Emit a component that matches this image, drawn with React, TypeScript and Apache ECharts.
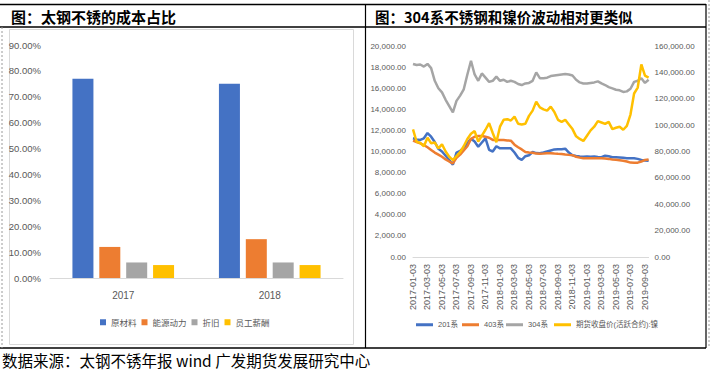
import React, { useEffect, useRef } from "react";
import * as echarts from "echarts";

// ---------- Left chart data ----------
const years = ["2017", "2018"];
const costRawMaterial = [0.77, 0.75];
const costEnergy = [0.12, 0.15];
const costDepreciation = [0.06, 0.06];
const costSalary = [0.05, 0.05];
const barNames = ["原材料", "能源动力", "折旧", "员工薪酬"];

// ---------- Right chart data (half-monthly readings, 2017-01-03 .. 2019-09-18) ----------
const lineNames = ["201系", "403系", "304系", "期货收盘价(活跃合约):镍"];
const priceDates: string[] = (() => {
  const out: string[] = [];
  for (const y of [2017, 2018, 2019]) {
    for (let m = 1; m <= 12; m++) {
      if (y === 2019 && m > 9) break;
      const mm = m < 10 ? "0" + m : "" + m;
      out.push(`${y}-${mm}-03`, `${y}-${mm}-18`);
    }
  }
  return out;
})();

const s201 = [
  11250, 11150, 11100, 11250, 11750, 11400, 10900, 10250, 10000, 9600,
  9200, 8750, 9900, 10050, 10350, 10800, 11200, 10950, 10450, 10850,
  11250, 10150, 10000, 10500, 10300, 10300, 10300, 10300, 9900, 9400,
  9200, 9550, 9650, 9950, 9850, 9830, 9900, 10000, 10100, 10200,
  10220, 10220, 10270, 9900, 9650, 9580, 9520, 9500, 9520, 9500,
  9520, 9480, 9460, 9600, 9550, 9460, 9450, 9430, 9400, 9360,
  9350, 9350, 9300, 9200, 9150, 9130,
];
const s403 = [
  11030, 10900, 10780, 10600, 10400, 10150, 9900, 9700, 9500, 9250,
  9050, 8880, 9400, 9700, 10100, 10500, 11200, 11400, 11470, 11470,
  11400, 11300, 11100, 11090, 11090, 11090, 11050, 11030, 10650, 10400,
  10200, 9950, 9900, 9880, 9800, 9780, 9800, 9830, 9830, 9800,
  9780, 9770, 9720, 9680, 9650, 9500, 9420, 9360, 9350, 9350,
  9350, 9350, 9350, 9340, 9300, 9250, 9220, 9180, 9130, 9050,
  8950, 8940, 8940, 9050, 9200, 9250,
];
const s304 = [
  18300, 18200, 18250, 18050, 18300, 17900, 16700, 16000, 15600, 14900,
  14300, 13700, 14800, 15300, 15900, 17300, 18600, 17300, 16700, 17400,
  17000, 16600, 16700, 17100, 16700, 16800, 16600, 16700, 16600, 16400,
  16300, 16450, 16500, 16700, 17500, 16950, 16950, 17000, 17150, 17200,
  17250, 17300, 17350, 17300, 17200, 16800, 16550, 16450, 16450, 16500,
  16550, 16650, 16450, 16300, 16100, 15980, 15850, 15800, 15650, 15700,
  15950, 16600, 16700, 16950, 16500, 16800,
];
const nickel = [
  96800, 87400, 86500, 84000, 90500, 86200, 86800, 82400, 85500, 80000,
  76000, 73500, 76500, 79500, 84000, 89500, 93500, 95500, 87500, 92000,
  96500, 101500, 94000, 87000, 98800, 104000, 104500, 103500, 106400, 101000,
  100500, 101000, 107000, 111000, 117800, 113500, 112000, 111000, 114000, 110000,
  104000, 102500, 104000, 100500, 97000, 91500, 89500, 88000, 92000, 96000,
  98800, 103000, 102000, 101000, 102500, 97000, 98000, 98800, 96500, 99500,
  108000, 124000, 128500, 146000, 137500, 136000,
];

const barColors = ["#4472C4", "#ED7D31", "#A5A5A5", "#FFC000"];
const NARROW = "'Liberation Sans', 'Noto Sans CJK SC', sans-serif";
const CJK = "'Noto Sans CJK SC', sans-serif";
const LABEL = "#595959";
const AXIS = "#D9D9D9";
const lineLegendLeft = [416, 462, 506, 554];

const fmtNum = (v: number) =>
  v.toLocaleString("en-US", { minimumFractionDigits: 2, maximumFractionDigits: 2 });

export default function App() {
  const ref = useRef<HTMLDivElement>(null);
  useEffect(() => {
    document.body.style.margin = "0";
    const chart = echarts.init(ref.current!, undefined, { renderer: "svg" });
    const barSeries = [costRawMaterial, costEnergy, costDepreciation, costSalary].map((d, i) => ({
      name: barNames[i],
      type: "bar",
      xAxisIndex: 0,
      yAxisIndex: 0,
      data: d,
      barWidth: 21,
      barGap: "28%",
      itemStyle: { color: barColors[i] },
    }));
    const lineData = [s201, s403, s304, nickel];
    const lineSeries = lineData.map((d, i) => ({
      name: lineNames[i],
      type: "line",
      xAxisIndex: 1,
      yAxisIndex: i === 3 ? 2 : 1,
      data: d,
      symbol: "none",
      lineStyle: { width: 2.5, color: barColors[i] },
      itemStyle: { color: barColors[i] },
    }));
    const line = (x1: number, y1: number, x2: number, y2: number, color = "#000", w = 1.5, dash?: number[]) => ({
      type: "line",
      shape: { x1, y1, x2, y2 },
      style: { stroke: color, lineWidth: w, lineDash: dash },
      silent: true,
    });
    const lineLegends = lineNames.map((n, i) => ({
      data: [n], left: lineLegendLeft[i], top: 321, padding: 0, icon: "rect", itemWidth: 17, itemHeight: 3,
      textStyle: { fontSize: 7.5, color: LABEL, fontFamily: NARROW },
    }));
    chart.setOption({
      animation: false,
      backgroundColor: "#fff",
      graphic: [
        { type: "rect", shape: { x: 9.5, y: 29.5, width: 344, height: 315 }, style: { fill: "none", stroke: AXIS, lineWidth: 1 } },
        line(0, 4.5, 706, 4.5, "#000", 1.5),
        line(0, 27, 706, 27, "#000", 1.5),
        line(0, 348, 706, 348, "#000", 1.5),
        line(365.5, 4, 365.5, 348, "#000", 1.2),
        line(706, 4, 706, 348, "#000", 1.2),
        line(2, 27, 2, 348, "#9a9a9a", 1, [2, 2]),
        line(709, 0, 709, 348, "#9a9a9a", 1, [2, 2]),
        {
          type: "text", x: 11, y: 16,
          style: { text: "图：太钢不锈的成本占比", font: `bold 15px ${CJK}`, fill: "#000", verticalAlign: "middle" },
        },
        {
          type: "text", x: 375, y: 16,
          style: { text: "图：304系不锈钢和镍价波动相对更类似", font: `bold 14.5px ${CJK}`, fill: "#000", verticalAlign: "middle" },
        },
        {
          type: "text", x: 2, y: 360,
          style: { text: "数据来源：太钢不锈年报 wind 广发期货发展研究中心", font: `15.5px ${CJK}`, fill: "#000", verticalAlign: "middle" },
        },
      ],
      legend: [
        {
          data: barNames, left: 100, top: 318, padding: 0, icon: "rect", itemWidth: 6, itemHeight: 6, itemGap: 5,
          textStyle: { fontSize: 8.5, color: LABEL, fontFamily: CJK },
        },
        ...lineLegends,
      ],
      grid: [
        { left: 50, top: 45, width: 293, height: 233 },
        { left: 413, top: 46, width: 235.6, height: 211 },
      ],
      xAxis: [
        {
          gridIndex: 0, type: "category", data: years,
          axisLine: { lineStyle: { color: AXIS, width: 1 } }, axisTick: { show: false },
          axisLabel: { color: LABEL, fontSize: 10, margin: 12, fontFamily: NARROW },
        },
        {
          gridIndex: 1, type: "category", data: priceDates, boundaryGap: false,
          axisLine: { lineStyle: { color: AXIS, width: 1 } }, axisTick: { show: false },
          axisLabel: { color: LABEL, fontSize: 9, interval: 3, rotate: 90, margin: 7, fontFamily: NARROW },
        },
      ],
      yAxis: [
        {
          gridIndex: 0, type: "value", min: 0, max: 0.9, interval: 0.1,
          axisLine: { show: false }, axisTick: { show: false }, splitLine: { show: false },
          axisLabel: { color: LABEL, fontSize: 9.5, margin: 9, fontFamily: NARROW, formatter: (v: number) => (v * 100).toFixed(2) + "%" },
        },
        {
          gridIndex: 1, type: "value", min: 0, max: 20000, interval: 2000, position: "left",
          axisLine: { show: false }, axisTick: { show: false }, splitLine: { show: false },
          axisLabel: { color: LABEL, fontSize: 8, margin: 7, fontFamily: NARROW, formatter: fmtNum },
        },
        {
          gridIndex: 1, type: "value", min: 0, max: 160000, interval: 20000, position: "right",
          axisLine: { show: false }, axisTick: { show: false }, splitLine: { show: false },
          axisLabel: { color: LABEL, fontSize: 8, margin: 6, fontFamily: NARROW, formatter: fmtNum },
        },
      ],
      series: [...barSeries, ...lineSeries],
    });
    return () => chart.dispose();
  }, []);
  return <div ref={ref} style={{ position: "absolute", left: 0, top: 0, width: 714, height: 370 }} />;
}
